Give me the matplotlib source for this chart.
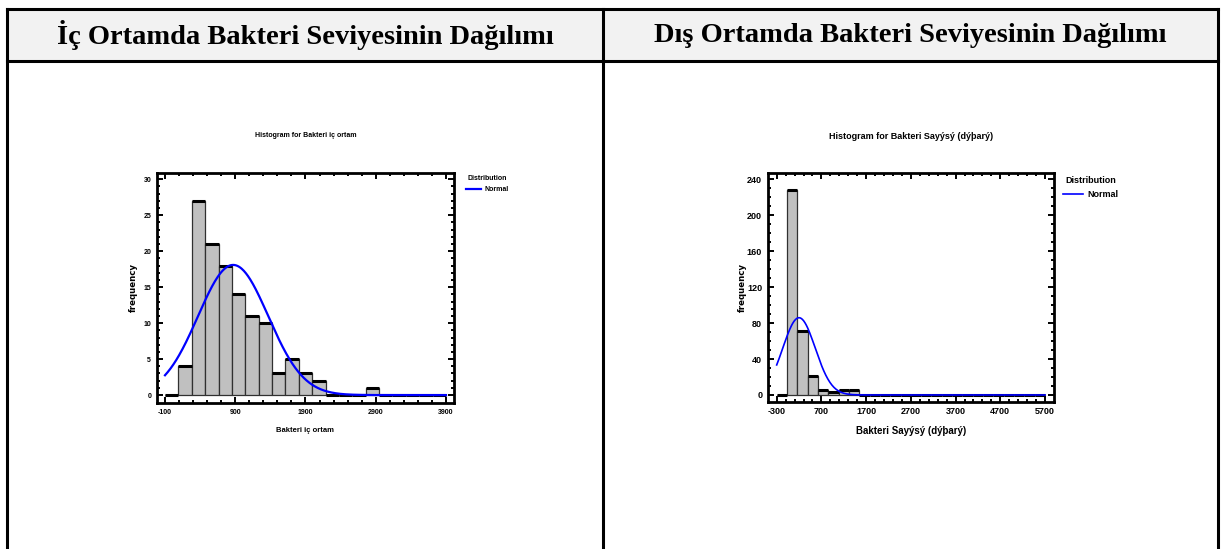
import numpy as np
import matplotlib
matplotlib.use("Agg")
import matplotlib.pyplot as plt
from matplotlib.ticker import FixedLocator

plt.rcParams["axes.unicode_minus"] = False

# ---------------- data ----------------
header_left = "İç Ortamda Bakteri Seviyesinin Dağılımı"
header_right = "Dış Ortamda Bakteri Seviyesinin Dağılımı"

# indoor histogram: 21 classes from -100 to 3900
in_lower, in_upper, in_classes = -100, 3900, 21
in_counts = [0, 4, 27, 21, 18, 14, 11, 10, 3, 5, 3, 2, 0, 0, 0, 1, 0, 0, 0, 0, 0]
in_mean, in_sd = 870, 500
in_xticks = [-100, 900, 1900, 2900, 3900]
in_yticks = [0, 5, 10, 15, 20, 25, 30]
in_title = "Histogram for Bakteri iç ortam"
in_xlabel = "Bakteri iç ortam"

# outdoor histogram: 26 classes from -300 to 5700
out_lower, out_upper, out_classes = -300, 5700, 26
out_counts = [0, 228, 71, 21, 6, 3, 5, 5] + [0] * 18
out_mean, out_sd = 199, 363
out_xticks = [-300, 700, 1700, 2700, 3700, 4700, 5700]
out_yticks = [0, 40, 80, 120, 160, 200, 240]
out_title = "Histogram for Bakteri Sayýsý (dýþarý)"
out_xlabel = "Bakteri Sayýsý (dýþarý)"

ylabel = "frequency"
legend_title = "Distribution"
legend_label = "Normal"

NARROW = ["Liberation Sans Narrow", "Liberation Sans", "DejaVu Sans"]

W, H = 1230, 549
fig = plt.figure(figsize=(W / 100, H / 100), dpi=100)

# ---------------- table frame ----------------
bg = fig.add_axes([0, 0, 1, 1])
bg.set_xlim(0, W)
bg.set_ylim(H, 0)
bg.axis("off")
bg.add_patch(plt.Rectangle((7, 9), 1218 - 7, 61 - 9, facecolor="#f2f2f2", edgecolor="none", zorder=0))
lw_tab = 2.2
bg.plot([7, 1218], [9, 9], color="black", lw=lw_tab, solid_capstyle="projecting")
bg.plot([7, 1218], [61, 61], color="black", lw=lw_tab)
for xv in (7, 603, 1218):
    bg.plot([xv, xv], [9, H + 2], color="black", lw=lw_tab, solid_capstyle="projecting")
hfont = dict(family=["Liberation Serif", "DejaVu Serif"], weight="bold", size=20.5, ha="center", va="center")
bg.text(305, 35, header_left, **hfont)
bg.text(910.5, 35, header_right, **hfont)


def hist_panel(rect, lower, upper, nclass, counts, mean, sd, xticks, yticks,
               xminor, yminor, xlim, ylim, title, xlabel, fs, curve_lw, leg_xy,
               tpad, xlpad, ylpad):
    ax = fig.add_axes(rect)
    width = (upper - lower) / nclass
    edges = lower + width * np.arange(nclass)
    counts = np.asarray(counts, dtype=float)
    ax.bar(edges, counts, width=width, align="edge", color="#c0c0c0",
           edgecolor="#303030", linewidth=0.9, zorder=2)
    ax.hlines(counts, edges, edges + width, color="black", linewidth=2.2, zorder=3)
    xs = np.linspace(lower, upper, 400)
    n = counts.sum()
    ys = n * width / (sd * np.sqrt(2 * np.pi)) * np.exp(-0.5 * ((xs - mean) / sd) ** 2)
    ax.plot(xs, ys, color="#0000ff", lw=curve_lw, zorder=4, label=legend_label)
    ax.set_xlim(*xlim)
    ax.set_ylim(*ylim)
    ax.xaxis.set_major_locator(FixedLocator(xticks))
    ax.yaxis.set_major_locator(FixedLocator(yticks))
    ax.xaxis.set_minor_locator(FixedLocator(np.arange(xticks[0], xticks[-1] + 1, xminor)))
    ax.yaxis.set_minor_locator(FixedLocator(np.arange(yticks[0], yticks[-1] + 0.01, yminor)))
    ax.tick_params(which="both", direction="in", top=True, right=True, width=1.4, colors="black")
    ax.tick_params(which="major", length=4.5, labelsize=fs, pad=4)
    ax.tick_params(which="minor", length=2.2)
    for lab in ax.get_xticklabels() + ax.get_yticklabels():
        lab.set_family(NARROW)
        lab.set_fontweight("bold")
    for sp in ax.spines.values():
        sp.set_linewidth(2.0)
    ax.set_title(title, family=NARROW, weight="bold", fontsize=fs, pad=tpad)
    ax.set_xlabel(xlabel, family=NARROW, weight="bold", fontsize=fs + 0.5, labelpad=xlpad)
    ax.set_ylabel(ylabel, family=["DejaVu Sans"], weight="bold", fontsize=6.2, labelpad=ylpad)
    leg = ax.legend(loc="upper left", bbox_to_anchor=leg_xy, frameon=False, title=legend_title,
                    prop=dict(family=NARROW, weight="bold", size=fs),
                    handlelength=2.2, handletextpad=0.5, borderaxespad=0)
    leg.get_title().set_fontfamily(NARROW)
    leg.get_title().set_fontweight("bold")
    leg.get_title().set_fontsize(fs)
    return ax


hist_panel([156.7 / W, 1 - 403 / H, 297.3 / W, 230.3 / H],
           in_lower, in_upper, in_classes, in_counts, in_mean, in_sd,
           in_xticks, in_yticks, 200, 1, (-218, 4014), (-1.1, 30.9),
           in_title, in_xlabel, 5.0, 1.6, (1.03, 1.0), 25.5, 8, 4)

hist_panel([767.7 / W, 1 - 401.7 / H, 286 / W, 229 / H],
           out_lower, out_upper, out_classes, out_counts, out_mean, out_sd,
           out_xticks, out_yticks, 200, 10, (-501, 5894), (-7.5, 247.4),
           out_title, out_xlabel, 6.5, 1.2, (1.02, 1.0), 24, 7, 0)

fig.savefig("out.png", dpi=100)
